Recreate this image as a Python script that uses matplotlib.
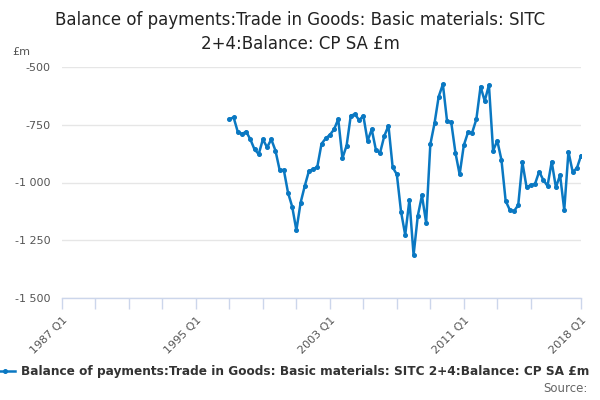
import matplotlib
matplotlib.use("Agg")
import matplotlib.pyplot as plt

start_index = 40  # quarters after 1987 Q1 (1997 Q1)
values = [
    -726, -718, -781, -790, -780, -813, -857, -877, -813, -848,
    -813, -862, -946, -946, -1044, -1105, -1207, -1088, -1015, -950,
    -943, -932, -833, -809, -794, -770, -726, -895, -840, -710,
    -705, -730, -711, -820, -770, -859, -871, -799, -754, -934,
    -965, -1126, -1227, -1076, -1314, -1145, -1056, -1174, -835, -744,
    -628, -575, -734, -740, -871, -965, -839, -783, -784, -726,
    -585, -647, -578, -862, -819, -903, -1080, -1119, -1124, -1098,
    -913, -1021, -1011, -1007, -953, -989, -1015, -910, -1021, -968,
    -1119, -867, -953, -939, -884,
]
x_tick_labels = ["1987 Q1", "1995 Q1", "2003 Q1", "2011 Q1", "2018 Q1"]
x_tick_label_pos = [0, 32, 64, 96, 124]
y_ticks = [-1500, -1250, -1000, -750, -500]
y_tick_labels = ["-1 500", "-1 250", "-1 000", "-750", "-500"]
title = "Balance of payments:Trade in Goods: Basic materials: SITC\n2+4:Balance: CP SA £m"
series_name = "Balance of payments:Trade in Goods: Basic materials: SITC 2+4:Balance: CP SA £m"

xs = list(range(start_index, start_index + len(values)))

plt.rcParams['font.family'] = ['DejaVu Sans']
fig = plt.figure(figsize=(6, 4), dpi=100)
ax = fig.add_axes([62/600, 1-298/400, (581-62)/600, (298-67)/400])

color = '#0a78c2'
line, = ax.plot(xs, values, color=color, lw=1.8, marker='o', ms=2.6, label=series_name)

ax.set_xlim(0, 124)
ax.set_ylim(-1500, -500)
ax.set_yticks(y_ticks)
ax.set_yticklabels(y_tick_labels, color='#555555', fontsize=8)
ax.grid(axis='y', color='#e6e6e6', lw=1)
ax.set_axisbelow(True)
ax.tick_params(axis='y', length=0, pad=8)

minor = list(range(0, 113, 8)) + [124]
ax.set_xticks(minor)
ax.set_xticklabels([x_tick_labels[x_tick_label_pos.index(m)] if m in x_tick_label_pos else "" for m in minor],
                   rotation=45, ha='right', rotation_mode='anchor', color='#555555', fontsize=8)
ax.tick_params(axis='x', length=8, color='#ccd6eb', width=1, pad=4)

for s in ['top', 'right', 'left']:
    ax.spines[s].set_visible(False)
ax.spines['bottom'].set_color('#ccd6eb')
ax.spines['bottom'].set_linewidth(1)

fig.text(0.5, 1-32/400, title, ha='center', va='center', fontsize=12, color='#222222', linespacing=1.4)
fig.text(12/600, 1-52/400, "£m", ha='left', va='center', fontsize=8, color='#555555')

leg = fig.legend(handles=[line], loc='center right', bbox_to_anchor=(589/600, 1-372/400), frameon=False,
                 prop={'size': 8.75, 'weight': 'bold'}, handlelength=1.6, handletextpad=0.5,
                 borderaxespad=0, borderpad=0)
for t in leg.get_texts():
    t.set_color('#333333')
fig.text(588/600, 1-388/400, "Source:", ha='right', va='center', fontsize=8.5, color='#666666')

fig.savefig('out.png', dpi=100)
